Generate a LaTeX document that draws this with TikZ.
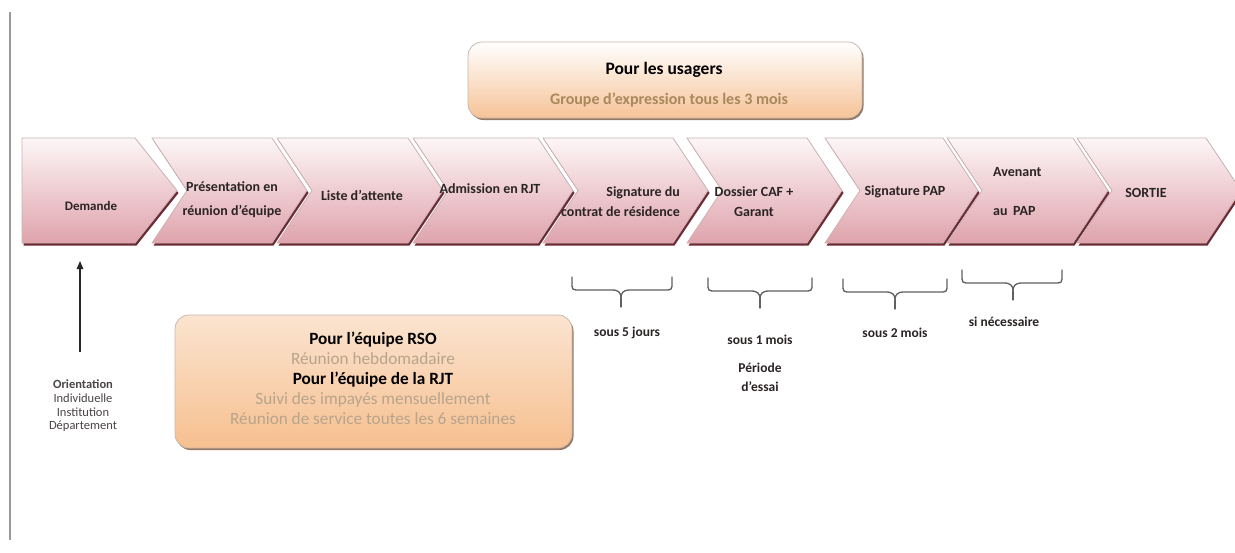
\documentclass[tikz,border=0pt]{standalone}
\usepackage{fontspec}
\setmainfont{Carlito}
\usetikzlibrary{arrows.meta,shadows,calc}
\definecolor{chevtop}{HTML}{FDF6F7}
\definecolor{chevbot}{HTML}{DFA3AC}
\definecolor{chevline}{HTML}{C9B2B5}
\definecolor{chevshadow}{HTML}{6E2A33}
\definecolor{chevtxt}{HTML}{2B2424}
\definecolor{boxtop}{HTML}{FFFFFF}
\definecolor{boxbot}{HTML}{F6C397}
\definecolor{boxline}{HTML}{C8B8AE}
\definecolor{boxshadow}{HTML}{8A6A55}
\definecolor{tantxt}{HTML}{B8A48C}
\definecolor{subtxt}{HTML}{A8885C}
\definecolor{bracec}{HTML}{606060}
\tikzset{
  chevtext/.style={font=\fontsize{14}{20}\selectfont\bfseries, text=chevtxt, align=center, inner sep=0pt},
  chevshape/.style={top color=chevtop, bottom color=chevbot, draw=chevline, line width=0.8pt},
  chevshade/.style={fill=chevshadow},
  infobox/.style={draw=boxline, line width=0.8pt, rounded corners=14pt,
     drop shadow={shadow xshift=1.5pt, shadow yshift=-2pt, fill=boxshadow, opacity=0.9}},
  smalllab/.style={font=\fontsize{13.5}{19}\selectfont\bfseries, text=chevtxt, inner sep=0pt},
  bracestyle/.style={draw=bracec, line width=1.3pt, line cap=round},
}
\newcommand\mybrace[4]{% left, right, top, middle
  \pgfmathsetmacro\hy{#3+13}
  \pgfmathsetmacro\cy{#3+21}
  \pgfmathsetmacro\by{#3+30}
  \draw[bracestyle] (#1,#3) -- (#1,#3+5) .. controls (#1,\hy) .. (#1+8,\hy) -- (#4-9,\hy)
     .. controls (#4-2,\hy) and (#4,#3+16) .. (#4,\cy)
     .. controls (#4,#3+16) and (#4+2,\hy) .. (#4+9,\hy) -- (#2-8,\hy)
     .. controls (#2,\hy) .. (#2,#3+5) -- (#2,#3);
  \draw[bracestyle] (#4,\cy) -- (#4,\by);
}
\begin{document}
\begin{tikzpicture}[x=1pt,y=-1pt]
\useasboundingbox (0,0) rectangle (1235,552);
\fill[white] (0,0) rectangle (1235,552);
% left margin line
\coordinate (mtop) at (10,12);
\coordinate (mbot) at (10,540);
\draw[gray!80, line width=2pt] (mtop) -- (mbot);

% first chevron (pentagon)
\fill[chevshade] (23.5,140.5) -- (136.5,140.5) -- (178.5,193) -- (136.5,245.5) -- (23.5,245.5) -- cycle;
\path[chevshape] (22,138) -- (135,138) -- (177,190.5) -- (135,243) -- (22,243) -- cycle;
% other chevrons
\foreach \L/\R in {152/272, 277/408, 413/538, 543/673, 687/807, 825/943, 947/1073, 1077/1206}{
  \pgfmathsetmacro\T{\R+35}
  \pgfmathsetmacro\N{\L+35}
  \fill[chevshade] ([shift={(1.5,2.5)}]\L,138) -- ([shift={(1.5,2.5)}]\R,138) -- ([shift={(1.5,2.5)}]\T,190.5) -- ([shift={(1.5,2.5)}]\R,243) -- ([shift={(1.5,2.5)}]\L,243) -- ([shift={(1.5,2.5)}]\N,190.5) -- cycle;
  \path[chevshape] (\L,138) -- (\R,138) -- (\T,190.5) -- (\R,243) -- (\L,243) -- (\N,190.5) -- cycle;
}

% chevron texts
\node[chevtext, font=\fontsize{13}{16}\selectfont\bfseries] (c1) at (91,206) {Demande};
\node[chevtext, font=\fontsize{14}{24}\selectfont\bfseries] (c2) at (232,200) {Présentation en\\réunion d’équipe};
\node[chevtext] (c3) at (362,195) {Liste d’attente};
\node[chevtext] (c4) at (490,189) {Admission en RJT};
\node[chevtext, align=right, anchor=east, font=\fontsize{14}{20}\selectfont\bfseries] (c5) at (680,202) {Signature du\\contrat de résidence};
\node[chevtext] (c6) at (754,202) {Dossier CAF +\\Garant};
\node[chevtext] (c7) at (905,192) {Signature PAP};
\node[chevtext, align=left, anchor=west, font=\fontsize{14}{39}\selectfont\bfseries] (c8) at (993,192) {Avenant\\au\, PAP};
\node[chevtext] (c9) at (1146,193) {SORTIE};

% top box
\node[infobox, top color=boxtop, bottom color=boxbot, minimum width=394pt, minimum height=76pt] (usagers) at (665,80) {};
\node[font=\fontsize{17.5}{20}\selectfont\bfseries, text=black, inner sep=0pt] (usT) at (664,70) {Pour les usagers};
\node[font=\fontsize{16}{18}\selectfont\bfseries, text=subtxt, inner sep=0pt] (usS) at (669,100) {Groupe d'expression tous les 3 mois};

% bottom box
\node[infobox, top color=boxbot!45, bottom color=boxbot!95!orange, minimum width=397pt, minimum height=133pt] (equipe) at (373.5,381.5) {};
\node[font=\fontsize{17.2}{20}\selectfont, inner sep=0pt, align=center] (eqT) at (373,378)
  {{\bfseries\color{black}Pour l’équipe RSO}\\
   {\color{tantxt}Réunion hebdomadaire}\\
   {\bfseries\color{black}Pour l’équipe de la RJT}\\
   {\color{tantxt}Suivi des impayés mensuellement}\\
   {\color{tantxt}Réunion de service toutes les 6 semaines}};

% orientation arrow
\node[font=\fontsize{12.5}{13.7}\selectfont, text=chevtxt!85, align=center, inner sep=0pt] (orient) at (83,406)
  {\textbf{Orientation}\\Individuelle\\Institution\\Département};
\coordinate (arrbot) at (80,352);
\coordinate (arrtop) at (80,261);
\draw[-{Triangle[length=8pt,width=6.5pt]}, line width=1.3pt, black!85] (arrbot) -- (arrtop);

% braces
\mybrace{572}{672}{277}{621}
\mybrace{708}{812}{278}{760}
\mybrace{843}{947}{279}{895}
\mybrace{962}{1062}{270}{1013}

% labels
\node[smalllab] (l1) at (627,333) {sous 5 jours};
\node[smalllab] (l2) at (760,340) {sous 1 mois};
\node[smalllab, align=center] (l3) at (760,377) {Période\\d'essai};
\node[smalllab] (l4) at (895,333) {sous 2 mois};
\node[smalllab] (l5) at (1004,322) {si nécessaire};
\end{tikzpicture}
\end{document}
